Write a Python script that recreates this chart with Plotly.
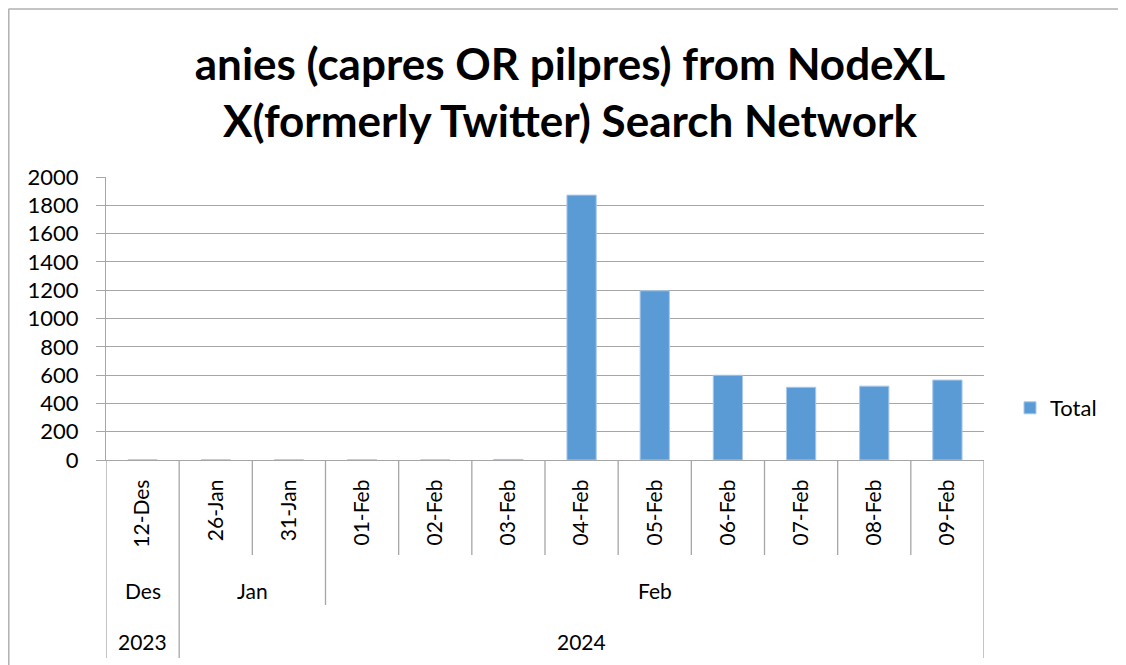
import plotly.graph_objects as go

days = ["12-Des", "26-Jan", "31-Jan", "01-Feb", "02-Feb", "03-Feb",
        "04-Feb", "05-Feb", "06-Feb", "07-Feb", "08-Feb", "09-Feb"]
months = ["Des", "Jan", "Jan", "Feb", "Feb", "Feb", "Feb", "Feb", "Feb", "Feb", "Feb", "Feb"]
years = ["2023", "2024", "2024", "2024", "2024", "2024", "2024", "2024", "2024", "2024", "2024", "2024"]
totals = [1, 1, 1, 1, 1, 4, 1872, 1196, 599, 514, 522, 565]
series_name = "Total"
title_lines = ["anies (capres OR pilpres) from NodeXL", "X(formerly Twitter) Search Network"]

FONT = "Lato"
GRAY = "#a6a6a6"
OFF = 8  # page body margin offset
W, H = 1126, 665
PL, PR, PT, PB = 106, 984, 177, 460
L = PL - OFF
T = PT - OFF
R = W - (PR - OFF)
B = H - (PB - OFF)
ph = PB - PT
pw = PR - PL

def py(p):  # screenshot pixel y -> paper y
    return (PB - p) / ph

def px(p):  # screenshot pixel x -> paper x
    return (p - PL) / pw

fig = go.Figure()
fig.add_trace(go.Bar(
    x=days, y=totals, name=series_name, width=0.4,
    marker=dict(color="#5b9bd5", line=dict(color="#a9c8ea", width=1)),
    showlegend=True,
))

def groups(labels):
    out = []
    start = 0
    for i in range(1, len(labels) + 1):
        if i == len(labels) or labels[i] != labels[start]:
            out.append((labels[start], start, i - 1))
            start = i
    return out

shapes = []
n = len(days)
year_bounds = set()
for _, s, e in groups(years):
    year_bounds.add(s - 0.5)
    year_bounds.add(e + 0.5)
month_bounds = set()
for _, s, e in groups(months):
    month_bounds.add(s - 0.5)
    month_bounds.add(e + 0.5)
for i in range(n + 1):
    b = i - 0.5
    if b in year_bounds:
        y1 = py(658)
    elif b in month_bounds:
        y1 = py(605)
    else:
        y1 = py(555)
    shapes.append(dict(type="line", xref="x", yref="paper", x0=b, x1=b,
                       y0=0, y1=y1, line=dict(color=GRAY, width=1.3)))

# outer frame (top and left)
shapes.append(dict(type="line", xref="paper", yref="paper", x0=px(8.5), x1=px(1140),
                   y0=py(9), y1=py(9), line=dict(color="#b0b0b0", width=1.5)))
shapes.append(dict(type="line", xref="paper", yref="paper", x0=px(8.8), x1=px(8.8),
                   y0=py(9), y1=py(680), line=dict(color="#b0b0b0", width=1.5)))

annotations = []
for lab, s, e in groups(months):
    annotations.append(dict(x=(s + e) / 2, y=py(590), xref="x", yref="paper",
                            text=lab, showarrow=False, yanchor="middle",
                            font=dict(family=FONT, size=21, color="#000")))
for lab, s, e in groups(years):
    annotations.append(dict(x=(s + e) / 2, y=py(641), xref="x", yref="paper",
                            text=lab, showarrow=False, yanchor="middle",
                            font=dict(family=FONT, size=21, color="#000")))

fig.update_layout(
    width=W, height=H,
    margin=dict(l=L, r=R, t=T, b=B, autoexpand=False),
    paper_bgcolor="white", plot_bgcolor="white",
    title=dict(text="<br>".join(title_lines), x=(570 - OFF) / W, xref="container", xanchor="center",
               y=1 - (80 - OFF) / H, yref="container", yanchor="middle",
               font=dict(family=FONT, size=44, color="#000", weight="bold")),
    xaxis=dict(type="category", tickangle=-90, ticks="", showline=True,
               linecolor=GRAY, linewidth=1.3, showgrid=False,
               tickfont=dict(family=FONT, size=21, color="#000"),
               ticklabelstandoff=10, range=[-0.5, n - 0.5], fixedrange=True),
    yaxis=dict(range=[0, 2000], dtick=200, tick0=0, showgrid=True, gridcolor=GRAY,
               gridwidth=1.3, showline=True, linecolor=GRAY, linewidth=1.3,
               ticks="outside", ticklen=9, tickcolor=GRAY, tickwidth=1.3,
               tickfont=dict(family=FONT, size=22, color="#000"),
               zeroline=False, ticklabelstandoff=13),
    legend=dict(x=px(1010), y=py(408), xanchor="left", yanchor="middle",
                font=dict(family=FONT, size=22, color="#000"),
                itemwidth=30, bgcolor="rgba(0,0,0,0)"),
    shapes=shapes, annotations=annotations,
    bargap=0.6,
)

fig.write_html("out.html")
